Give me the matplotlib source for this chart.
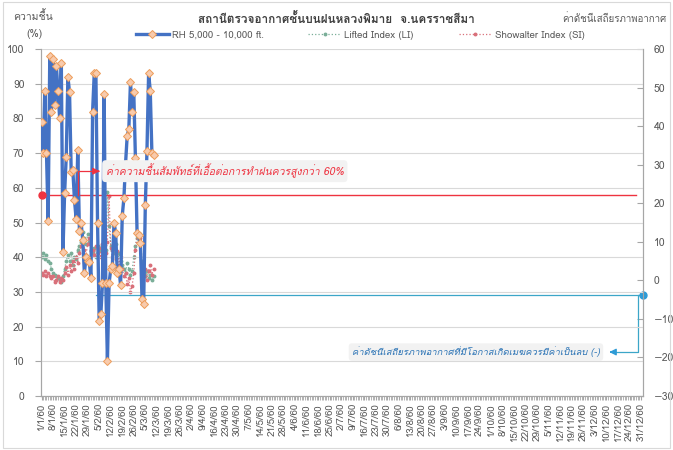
import numpy as np
import pandas as pd
import matplotlib
matplotlib.use("Agg")
import matplotlib.pyplot as plt
from matplotlib import font_manager
from matplotlib.patches import Rectangle
from fontTools.ttLib import TTFont


def find_thai_font():
    # pick the first installed family that has Thai glyphs
    for f in font_manager.fontManager.ttflist:
        try:
            cmap = TTFont(f.fname, fontNumber=0, lazy=True).getBestCmap()
        except Exception:
            continue
        if cmap and 0x0E01 in cmap:
            return f.name
    return "DejaVu Sans"


thai_font = find_thai_font()
plt.rcParams["font.family"] = [thai_font, "DejaVu Sans"]

# ============================================================
# Data (day 0 = 1/1/60)
# ============================================================
dates = pd.date_range("2017-01-01", "2017-12-31", freq="D")
date_labels = [f"{d.day}/{d.month}/60" for d in dates]

rh = [79, 70, 88, 70, 50.5, 98, 82, 97, 84, 95,
      88, 80, 96, 41.5, 58.5, 69, 92, 87.5, 64.5, 65,
      56.5, 51, 71, 47.5, 50, 45, 35.5, 40, 39, 38.5,
      34, 82, 93, 93, 50, 21.5, 23.5, 32.5, 87, 32.5,
      10, 32.5, 36.5, 37.5, 50, 47, 35.5, 36.5, 32, 52,
      57, 67, 75, 77, 90.5, 82, 87.5, 68.5, 47, 46.5,
      44, 28, 26.5, 55, 70.5, 93, 88, 70, 69.5]

li = [6, 7, 5.5, 6.5, 5, 4.5, 3, 2, 1.5, 1,
      0.5, 0, -0.5, 1, 3, 5, 6.5, 5, 7, 4,
      6, 5.5, 8, 9, 10, 12.5, 11, 9.5, 12, 10,
      8, 7, 8.5, 6, 9, 8, 7.5, 9, 10, 8,
      23, 14, 9, 8, 7, 9.5, 6, 7, 5, 4,
      3, 2, 4.5, 3, 1.5, 2.5, 6, 9, 11, 10.5,
      12, 5, 2, 1, 2.5, 0.5, 1.5, 0, 1]

si = [2, 1.5, 2.5, 1, 2, 1, 0.5, 1, -0.5, 0,
      1, -0.5, 0.5, 0, 2, 3.5, 1.5, 4, 2.5, 5,
      3, 6, 4.5, 7, 9, 10.5, 8, 6.5, 9.5, 11,
      7.5, 8, 6.5, 9, 7, 8.5, 6, 9.5, 8, 7,
      10, 22, 8.5, 6, 9, 5.5, 7.5, 4, 6, 3,
      1, 2, -1, 0.5, -3, -1.5, 2, 8, 12, 10,
      11, -2, 1, 3, 0, 2.5, 4, 1.5, 3]

rh_threshold = 58
index_threshold = -3.7

days = np.arange(len(dates))

# ============================================================
# Figure
# ============================================================
fig = plt.figure(figsize=(6.73, 4.5), dpi=100)
ax = fig.add_axes([0.061, 0.12, 0.894, 0.771])
ax2 = ax.twinx()

blue = "#4472C4"
grey_txt = "#595959"

ax.plot(days[:len(rh)], rh, color=blue, lw=2.4, marker="D", ms=3.6,
        mfc="#F8CBAD", mec="#ED9C5A", mew=0.7, zorder=5,
        label="RH 5,000 - 10,000 ft.")
ax2.plot(days[:len(li)], li, color="#7AAE98", lw=0.9, ls=":", marker="o",
         ms=1.8, zorder=3, label="Lifted Index (LI)")
ax2.plot(days[:len(si)], si, color="#D9707A", lw=0.9, ls=":", marker="o",
         ms=1.8, zorder=3, label="Showalter Index (SI)")
ax.set_zorder(ax2.get_zorder() + 1)
ax.patch.set_visible(False)

# axes
ax.set_xlim(-0.3, 365)
ax.set_ylim(0, 100)
ax2.set_ylim(-30, 60)
ax.set_yticks(np.arange(0, 101, 10))
ax2.set_yticks(np.arange(-30, 61, 10))
ax.yaxis.grid(True, color="#D9D9D9", lw=0.8)
ax.set_axisbelow(True)

ax.set_xticks(days[::7])
ax.set_xticklabels(date_labels[::7], rotation=90, fontsize=7, color=grey_txt)
ax.set_xticks(days, minor=True)
ax.tick_params(axis="x", which="both", length=3, color="#A6A6A6", pad=2)
ax.tick_params(axis="y", length=4, color="#A6A6A6", labelsize=7.5,
               labelcolor=grey_txt, pad=8)
ax2.tick_params(axis="y", direction="in", length=4, color="#A6A6A6",
                labelsize=7.5, labelcolor=grey_txt, pad=8)

for a in (ax, ax2):
    a.spines["top"].set_visible(False)
    for s in ("left", "right", "bottom"):
        a.spines[s].set_color("#A6A6A6")
        a.spines[s].set_linewidth(0.8)

# RH threshold annotation
red = "#EE3340"
ax.axhline(rh_threshold, xmin=0, xmax=361 / 365.3, color=red, lw=1.0, zorder=4)
ax.plot([0], [rh_threshold], "o", color=red, ms=5, clip_on=False, zorder=6)
ax.plot([22, 22, 34], [rh_threshold, 64.8, 64.8], color=red, lw=0.9, zorder=6)
ax.annotate("", xy=(37, 64.8), xytext=(33, 64.8),
            arrowprops=dict(arrowstyle="-|>", color=red, lw=0.9), zorder=6)
ax.text(39, 64.8, "ค่าความชื้นสัมพัทธ์ที่เอื้อต่อการทำฝนควรสูงกว่า 60%",
        color=red, fontsize=7.5, style="italic", va="center", ha="left", zorder=7,
        bbox=dict(boxstyle="round,pad=0.35", fc="#F2F2F2", ec="none"))

# stability index annotation
cyan = "#3CA6C8"
ax2.plot([33, 365], [index_threshold, index_threshold], color=cyan, lw=0.9,
         zorder=4, clip_on=False)
ax2.plot([365], [index_threshold], "o", color="#2E9BD6", ms=5, clip_on=False,
         zorder=6)
ax2.plot([362, 362, 347], [index_threshold, -18.6, -18.6], color=cyan, lw=0.9)
ax2.annotate("", xy=(343, -18.6), xytext=(348, -18.6),
             arrowprops=dict(arrowstyle="-|>", color="#2E9BD6", lw=0.9))
ax2.text(339, -18.6, "ค่าดัชนีเสถียรภาพอากาศที่มีโอกาสเกิดเมฆควรมีค่าเป็นลบ (-)",
         color="#2E75B6", fontsize=6.8, style="italic", va="center", ha="right",
         bbox=dict(boxstyle="round,pad=0.35", fc="#F2F2F2", ec="none"))

# titles / labels
fig.text(0.50, 0.958, "สถานีตรวจอากาศชั้นบนฝนหลวงพิมาย  จ.นครราชสีมา",
         ha="center", va="center", fontsize=8.5, fontweight="bold", color="#404040")
fig.text(0.049, 0.965, "ความชื้น", ha="center", va="center", fontsize=7.5,
         color=grey_txt)
fig.text(0.051, 0.925, "(%)", ha="center", va="center", fontsize=7.5,
         color=grey_txt)
fig.text(0.99, 0.958, "ค่าดัชนีเสถียรภาพอากาศ", ha="right", va="center",
         fontsize=7, color=grey_txt)

h1, l1 = ax.get_legend_handles_labels()
h2, l2 = ax2.get_legend_handles_labels()
fig.legend(h1 + h2, l1 + l2, loc="center", bbox_to_anchor=(0.535, 0.922),
           ncol=3, frameon=False, fontsize=7, handlelength=3.4,
           handletextpad=0.3, columnspacing=4.6, labelcolor=grey_txt)

fig.patches.append(Rectangle((0.004, 0.004), 0.992, 0.992,
                             transform=fig.transFigure, fill=False,
                             edgecolor="#D9D9D9", lw=0.8))

fig.savefig("out.png", dpi=100)
